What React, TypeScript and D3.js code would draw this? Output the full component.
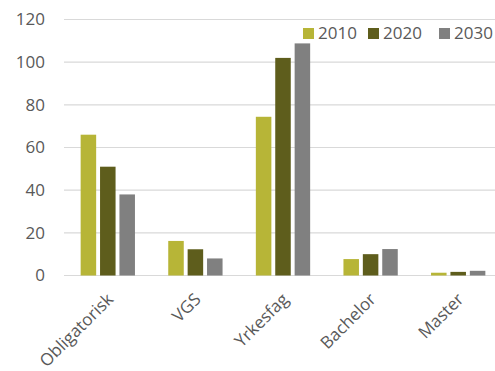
import React from "react";
import * as d3 from "d3";

const categories = ["Obligatorisk", "VGS", "Yrkesfag", "Bachelor", "Master"];
const years = ["2010", "2020", "2030"];
const values2010 = [66, 16.2, 74.4, 7.7, 1.3];
const values2020 = [51, 12.3, 102, 10, 1.7];
const values2030 = [38, 8, 108.8, 12.4, 2.2];
const yTicks = [0, 20, 40, 60, 80, 100, 120];
const colors = ["#b7b537", "#5e5d1c", "#808080"];

const W = 495;
const H = 371;
const FONT = "'Open Sans', sans-serif";
const TEXT = "#595959";

export default function App() {
  const series = [values2010, values2020, values2030];
  const x0 = d3
    .scaleBand<string>()
    .domain(categories)
    .range([64, 502])
    .paddingInner(0.38)
    .paddingOuter(0.19);
  const x1 = d3
    .scaleBand<string>()
    .domain(years)
    .range([0, x0.bandwidth()])
    .paddingInner(0.2);
  const y = d3.scaleLinear().domain([0, 120]).range([275.5, 19.5]);

  const legendX = [303, 368, 439];

  return (
    <div style={{ position: "absolute", left: 0, top: 0 }}>
      <svg width={W} height={H} style={{ display: "block", background: "#fff" }}>
        {yTicks.map((t) => (
          <g key={t}>
            <line x1={64} x2={W} y1={y(t)} y2={y(t)} stroke="#d9d9d9" strokeWidth={1.2} />
            <text
              x={45}
              y={y(t)}
              dy="0.35em"
              textAnchor="end"
              fontFamily={FONT}
              fontSize={17}
              fill={TEXT}
            >
              {t}
            </text>
          </g>
        ))}
        {categories.map((c, i) => (
          <g key={c} transform={`translate(${x0(c)},0)`}>
            {years.map((yr, j) => (
              <rect
                key={yr}
                x={x1(yr)}
                y={y(series[j][i])}
                width={x1.bandwidth()}
                height={y(0) - y(series[j][i])}
                fill={colors[j]}
              />
            ))}
          </g>
        ))}
        {categories.map((c) => {
          const cx = (x0(c) as number) + x0.bandwidth() / 2;
          return (
            <text
              key={c}
              transform={`translate(${cx - 2},${292}) rotate(-45)`}
              textAnchor="end"
              dy="0.7em"
              fontFamily={FONT}
              fontSize={17}
              fill={TEXT}
            >
              {c}
            </text>
          );
        })}
        {years.map((yr, j) => (
          <g key={yr} transform={`translate(${legendX[j]},0)`}>
            <rect x={0} y={28} width={11} height={11} fill={colors[j]} />
            <text x={15} y={39} fontFamily={FONT} fontSize={17} fill={TEXT}>
              {yr}
            </text>
          </g>
        ))}
      </svg>
    </div>
  );
}
